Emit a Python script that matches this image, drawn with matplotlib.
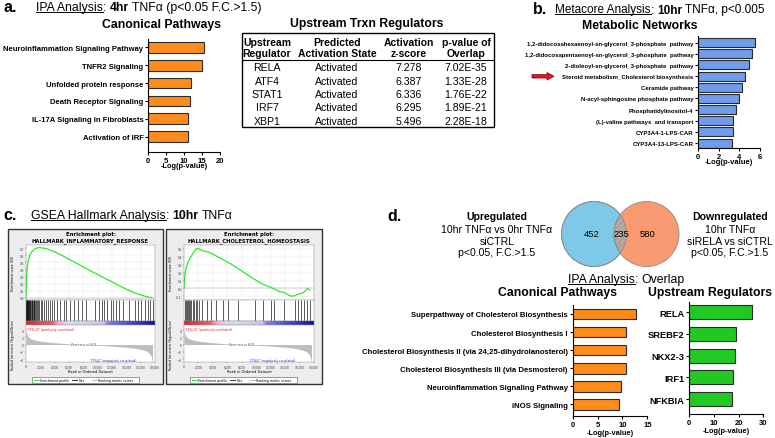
import numpy as np
import matplotlib
matplotlib.use('Agg')
import matplotlib.pyplot as plt
from matplotlib.patches import Rectangle, Circle, FancyArrow
from matplotlib.colors import LinearSegmentedColormap

plt.rcParams['font.family'] = ['Liberation Sans', 'DejaVu Sans']

# ---- data ----
a_pathways = ['Neuroinflammation Signaling Pathway', 'TNFR2 Signaling', 'Unfolded protein response',
              'Death Receptor Signaling', 'IL-17A Signaling in Fibroblasts', 'Activation of IRF']
a_logp = [15.6, 14.9, 11.9, 11.6, 11.0, 11.0]

reg_names = ['RELA', 'ATF4', 'STAT1', 'IRF7', 'XBP1']
reg_state = ['Activated', 'Activated', 'Activated', 'Activated', 'Activated']
reg_z = ['7.278', '6.387', '6.336', '6.295', '5.496']
reg_p = ['7.02E-35', '1.33E-28', '1.76E-22', '1.89E-21', '2.28E-18']

b_networks = ['1,2-didocosahexaenoyl-sn-glycerol_3-phosphate  pathway',
              '1,2-didocosapentaenoyl-sn-glycerol_3-phosphate  pathway',
              '2-dioleoyl-sn-glycerol_3-phosphate  pathway',
              'Steroid metabolism_Cholesterol biosynthesis',
              'Ceramide pathway',
              'N-acyl-sphingosine phosphate pathway',
              'Phosphatidylinositol-4',
              '(L)-valine pathways  and transport',
              'CYP3A4-1-LPS-CAR',
              'CYP3A4-13-LPS-CAR']
b_logp = [5.5, 5.18, 4.95, 4.56, 4.24, 3.98, 3.63, 3.4, 3.34, 3.3]

inflam_rank = [0, 60, 150, 300, 500, 800, 1200, 1700, 2300, 3000, 4000, 5000, 6000, 7000, 8000,
               9000, 10000, 11000, 12000, 13000, 14000, 15000, 16000, 16800, 17600]
inflam_es = [0, 0.25, 0.40, 0.52, 0.60, 0.65, 0.69, 0.71, 0.705, 0.69, 0.65, 0.60, 0.545, 0.49, 0.435,
             0.38, 0.33, 0.275, 0.225, 0.17, 0.12, 0.075, 0.04, 0.015, 0.0]
inflam_hits = [20, 60, 110, 150, 200, 260, 320, 380, 450, 520, 600, 680, 760, 850, 950, 1050, 1150,
               1280, 1400, 1530, 1680, 1850, 2050, 2250, 2500, 2750, 3000, 3300, 3600, 3900, 4300,
               4700, 5200, 5500, 6100, 6600, 7100, 7700, 8300, 9400, 10000, 10400, 10700, 11100,
               11600, 12000, 12300, 12800, 13300, 14200, 14900, 15300, 15800, 16300, 16700, 17000, 17400]

chol_rank = [0, 100, 250, 500, 800, 1100, 1400, 1800, 2500, 3400, 4500, 5500, 6500, 7500, 8500, 9500,
             10300, 11000, 11800, 12600, 13200, 13800, 14400, 14900, 15400, 15900, 16400, 16800, 17100, 17400]
chol_es = [0, 0.15, 0.24, 0.32, 0.38, 0.42, 0.47, 0.51, 0.48, 0.46, 0.41, 0.36, 0.31, 0.25, 0.19, 0.13,
           0.085, 0.05, 0.02, -0.01, -0.04, -0.05, -0.08, -0.1, -0.09, -0.07, -0.06, -0.03, 0.0, -0.02]
chol_hits = [100, 250, 400, 550, 700, 850, 1000, 1200, 1400, 1600, 1800, 2100, 2500, 3100, 3700, 4300,
             5300, 6000, 7400, 9600, 10700, 11800, 12300, 13600, 15100, 15500, 15900, 16400, 16800, 17100]

metric_rank = [0, 50, 150, 300, 600, 1000, 2000, 3000, 4000, 5000, 6000, 7000, 8025, 9000, 10000,
               11000, 12000, 13000, 14000, 15000, 16000, 16800, 17200, 17500, 17650]
metric_val = [4.8, 3.6, 2.8, 2.2, 1.7, 1.35, 0.95, 0.7, 0.5, 0.35, 0.2, 0.1, 0.0, -0.1, -0.2,
              -0.3, -0.45, -0.6, -0.75, -0.95, -1.3, -1.8, -2.4, -3.4, -4.8]

venn_counts = [452, 235, 580]

d_pathways = ['Superpathway of Cholesterol Biosynthesis', 'Cholesterol Biosynthesis I',
              'Cholesterol Biosynthesis II (via 24,25-dihydrolanosterol)',
              'Cholesterol Biosynthesis III (via Desmosterol)',
              'Neuroinflammation Signaling Pathway', 'iNOS Signaling']
d_logp = [12.7, 10.7, 10.7, 10.7, 9.65, 9.25]
d_regs = ['RELA', 'SREBF2', 'NKX2-3', 'IRF1', 'NFKBIA']
d_reg_logp = [25.4, 18.8, 18.4, 17.7, 17.5]

# ---- figure in pixel coords ----
W, H = 775, 439
fig = plt.figure(figsize=(W / 100, H / 100), dpi=100)
ov = fig.add_axes([0, 0, 1, 1])
ov.set_xlim(0, W)
ov.set_ylim(H, 0)
ov.axis('off')
R = fig.canvas.get_renderer()

HEAD = 8.8   # panel header size
TITLE = 8.8  # bold chart titles


def px_axes(l, t, r, b):
    return fig.add_axes([l / W, 1 - b / H, (r - l) / W, (b - t) / H])


def txt(x, y, s, fs, w='normal', ha='center', va='center', **kw):
    return ov.text(x, y, s, fontsize=fs, fontweight=w, ha=ha, va=va, **kw)


def header(x, y, parts, fs):
    # parts: (text, weight, underline, gap_before)
    sp = (txt(0, 0, 'x x', fs, va='baseline').get_window_extent(R).width
          - txt(0, 0, 'xx', fs, va='baseline').get_window_extent(R).width)
    for t in ov.texts[-2:]:
        t.remove()
    for s, w, ul, gap in parts:
        if gap:
            x += sp
        t = txt(x, y, s, fs, w, ha='left', va='baseline')
        wd = t.get_window_extent(R).width
        if ul:
            ov.plot([x, x + wd], [y + 1.6, y + 1.6], color='black', lw=0.7)
        x += wd


def hbar(l, t, r, b, c0, c1, bar_px, labels, vals, color, xmax, xticks, lab_fs, tick_fs, xl_y, xl_fs):
    ax = px_axes(l, t, r, b)
    n = len(vals)
    per = (c1 - c0) / (n - 1)
    pos = np.arange(n)
    ax.barh(pos, vals, height=bar_px / per, color=color, edgecolor='#2b2b2b', linewidth=0.8)
    ax.set_ylim(n - 1 + (b - c1) / per, -(c0 - t) / per)
    ax.set_xlim(0, xmax)
    ax.set_xticks(xticks)
    ax.set_xticklabels([str(v) for v in xticks], fontsize=tick_fs, fontweight='bold')
    ax.set_yticks(pos)
    ax.set_yticklabels(labels, fontsize=lab_fs, fontweight='bold')
    ax.spines[['top', 'right']].set_visible(False)
    ax.spines[['left', 'bottom']].set_linewidth(0.8)
    ax.tick_params(length=2.5, width=0.8, pad=1)
    ax.patch.set_alpha(0)
    txt((l + r) / 2, xl_y, '-Log(p-value)', xl_fs, 'bold')
    return ax


# ---- panel a ----
txt(3, 8, 'a.', 11.5, 'bold', ha='left')
header(36, 11, [('IPA Analysis', 'normal', True, False), (':', 'normal', False, False),
                ('4hr', 'bold', False, True), ('TNFα (p<0.05 F.C.>1.5)', 'normal', False, True)], HEAD)
txt(162, 25, 'Canonical Pathways', TITLE, 'bold')
hbar(148.3, 40, 220, 153, 48.3, 137.7, 10.7, a_pathways, a_logp, '#FF8C1A',
     20, [0, 5, 10, 15, 20], 5.5, 5.5, 167, 5.3)

# table
txt(367, 24, 'Upstream Trxn Regulators', TITLE, 'bold')
ov.add_patch(Rectangle((242.3, 34.3), 494 - 242.3, 128.3 - 34.3, fill=False, ec='black', lw=1))
ov.plot([242.3, 494], [60.7, 60.7], color='black', lw=0.8)
col_x = [267, 337, 409, 466]
head1 = ['Upstream', 'Predicted', 'Activation', 'p-value of']
head2 = ['Regulator', 'Activation State', 'z-score', 'Overlap']
for i in range(4):
    txt(col_x[i], 42.7, head1[i], 7.5, 'bold')
    txt(col_x[i], 54.3, head2[i], 7.5, 'bold')
row_y = [68.3, 81.7, 95, 108.3, 121.7]
for j in range(len(reg_names)):
    for i, v in enumerate([reg_names[j], reg_state[j], reg_z[j], reg_p[j]]):
        txt(col_x[i], row_y[j], v, 7.6)

# ---- panel b ----
txt(533, 10, 'b.', 11.5, 'bold', ha='left')
header(555, 13.5, [('Metacore Analysis', 'normal', True, False), (':', 'normal', False, False),
                   ('10hr', 'bold', False, True), ('TNFα, p<0.005', 'normal', False, True)], 8.5)
txt(640, 26, 'Metabolic Networks', TITLE, 'bold')
hbar(698.3, 37, 760, 149, 43.7, 144, 9, b_networks, b_logp, '#6F9CEB',
     6, [0, 2, 4, 6], 4.3, 5.5, 163, 5.5)
ov.add_patch(FancyArrow(532, 77.3, 15, 0, width=3.5, head_width=7.5, head_length=7,
                        length_includes_head=False, fc='#E8141B', ec='#7a0000', lw=0.5))


# ---- panel c ----
txt(3, 216, 'c.', 11.5, 'bold', ha='left')
header(31, 219.5, [('GSEA Hallmark Analysis', 'normal', True, False), (':', 'normal', False, False),
                   ('10hr', 'bold', False, True), ('TNFα', 'normal', False, True)], HEAD)

heat = LinearSegmentedColormap.from_list('heat', [(0, '#E3262E'), (0.2, '#F05A6A'), (0.25, '#F4B0CF'),
                                                  (0.33, '#E0DAF2'), (0.6, '#C8C8F2'), (0.64, '#7F7FEA'),
                                                  (0.78, '#5050DF'), (0.92, '#2626CF'), (1, '#0A0AB0')])


def gsea(l, r, title, es_x, es_y, ylim, yticks, hits):
    top, bot = 230, 385
    ov.add_patch(Rectangle((l, top), r - l, bot - top, fc='#EDEDED', ec='#333333', lw=1))
    il, ir = l + 18, r - 8
    cx = (il + ir) / 2
    txt(cx, 235, 'Enrichment plot:', 3.8, 'bold', family='DejaVu Sans')
    txt(cx, 241, title, 3.8, 'bold', family='DejaVu Sans')
    small = dict(labelsize=2.3, length=1, width=0.3, pad=0.5, colors='#444444')

    a1 = px_axes(il, 246, ir, 300.7)
    a1.plot(es_x, es_y, color='#2BEA2B', lw=0.9)
    a1.axhline(0, color='#999999', lw=0.3)
    a1.set_xlim(0, 17700)
    a1.set_ylim(*ylim)
    a1.set_yticks(yticks)
    a1.set_yticklabels(['%.1f' % v for v in yticks])
    a1.set_xticks(range(0, 18001, 2000))
    a1.tick_params(labelbottom=False, **small)
    a1.grid(color='#E3E3E3', lw=0.3)
    txt(l + 5, 273, 'Enrichment score (ES)', 2.3, rotation=90, family='DejaVu Sans')

    a2 = px_axes(il, 300.7, ir, 321.7)
    a2.vlines(hits, 0, 1, color='black', lw=0.45)
    a2.set_xlim(0, 17700)
    a2.set_ylim(0, 1)
    a2.set_xticks([])
    a2.set_yticks([])

    a3 = px_axes(il, 321.7, ir, 326)
    a3.imshow(np.linspace(0, 1, 200)[None, :], aspect='auto', cmap=heat, extent=(0, 17700, 0, 1))
    a3.set_xticks([])
    a3.set_yticks([])

    a4 = px_axes(il, 326, ir, 363.3)
    a4.fill_between(metric_rank, metric_val, 0, color='#BDBDBD', lw=0)
    a4.set_xlim(0, 17700)
    a4.set_ylim(-4.9, 5.4)
    a4.set_yticks([-4, -2, 0, 2, 4])
    a4.set_xticks(range(0, 18001, 2000))
    a4.set_xticklabels(['0'] + ['{:,}'.format(v) for v in range(2000, 18001, 2000)])
    a4.tick_params(**small)
    a4.text(200, 4.9, "'CTRL10' (positively correlated)", fontsize=2.2, color='#E02020', va='top',
            family='DejaVu Sans')
    a4.text(12200, -4.3, "'CTRL0' (negatively correlated)", fontsize=2.2, color='#3030E0', ha='center',
            va='center', family='DejaVu Sans')
    a4.text(8025, 0.2, 'Zero cross at 8025', fontsize=2.0, color='#555555', ha='center', va='center',
            family='DejaVu Sans')
    txt(l + 5, 345, 'Ranked list metric (Signal2Noise)', 2.2, rotation=90, family='DejaVu Sans')
    txt(cx, 371.7, 'Rank in Ordered Dataset', 2.6, family='DejaVu Sans')

    for a in (a1, a2, a3, a4):
        for s in a.spines.values():
            s.set_linewidth(0.3)
            s.set_color('#888888')

    lx = l + 24
    ov.add_patch(Rectangle((lx, 377.5), 107, 6.5, fc='white', ec='#555555', lw=0.4))
    leg = [('Enrichment profile', '#2BEA2B', 2), ('Hits', '#333333', 40), ('Ranking metric scores', '#BBBBBB', 60)]
    for name, c, off in leg:
        ov.plot([lx + off, lx + off + 5], [380.7, 380.7], color=c, lw=0.7)
        txt(lx + off + 6.5, 380.8, name, 2.3, ha='left', family='DejaVu Sans')


gsea(8, 163, 'HALLMARK_INFLAMMATORY_RESPONSE', inflam_rank, inflam_es,
     (-0.028, 0.747), [0.0, 0.1, 0.2, 0.3, 0.4, 0.5, 0.6, 0.7], inflam_hits)
gsea(166, 322, 'HALLMARK_CHOLESTEROL_HOMEOSTASIS', chol_rank, chol_es,
     (-0.143, 0.55), [-0.1, 0.0, 0.1, 0.2, 0.3, 0.4, 0.5], chol_hits)

# ---- panel d ----
txt(387, 217, 'd.', 11.5, 'bold', ha='left')
txt(497, 217, 'Upregulated', 7.6, 'bold')
for y, s in zip([230, 241.7, 253.3], ['10hr TNFα vs 0hr TNFα', 'siCTRL', 'p<0.05, F.C.>1.5']):
    txt(497, y, s, 7.6)
txt(730, 217, 'Downregulated', 7.6, 'bold')
for y, s in zip([230, 241.7, 253.3], ['10hr TNFα', 'siRELA vs siCTRL', 'p<0.05, F.C.>1.5']):
    txt(730, y, s, 7.6)

plt.rcParams['hatch.linewidth'] = 0.3
c_blue = Circle((594, 235), 32.5, fc='#7FC9E8', ec='#8a8a8a', lw=0.6)
c_org = Circle((646.5, 235), 32.5, fc='#F99A72', ec='#8a8a8a', lw=0.6)
ov.add_patch(c_blue)
ov.add_patch(c_org)
c_mid = Circle((646.5, 235), 32.5, fc='#B8AAA3', ec='#8a8a8a', lw=0.6, hatch='//////')
ov.add_patch(c_mid)
c_mid.set_clip_path(c_blue)
ov.add_patch(Circle((594, 235), 32.5, fill=False, ec='#8a8a8a', lw=0.6))
for x, v in zip([592, 621, 648], venn_counts):
    txt(x, 235, str(v), 6.8)

header(568, 283.5, [('IPA Analysis', 'normal', True, False), (':', 'normal', False, False),
                    ('Overlap', 'normal', False, True)], HEAD)
txt(558, 293, 'Canonical Pathways', TITLE, 'bold')
txt(710, 293, 'Upstream Regulators', TITLE, 'bold')
hbar(572.7, 306, 647.3, 416.7, 315, 405.3, 10.7, d_pathways, d_logp, '#FF8C1A',
     15, [0, 5, 10, 15], 5.6, 5.5, 434, 5.3)
hbar(689.3, 303, 763.3, 415, 313.3, 400, 14, d_regs, d_reg_logp, '#22C922',
     30, [0, 10, 20, 30], 6.7, 5.5, 432, 5.3)

fig.savefig('out.png', dpi=100)
